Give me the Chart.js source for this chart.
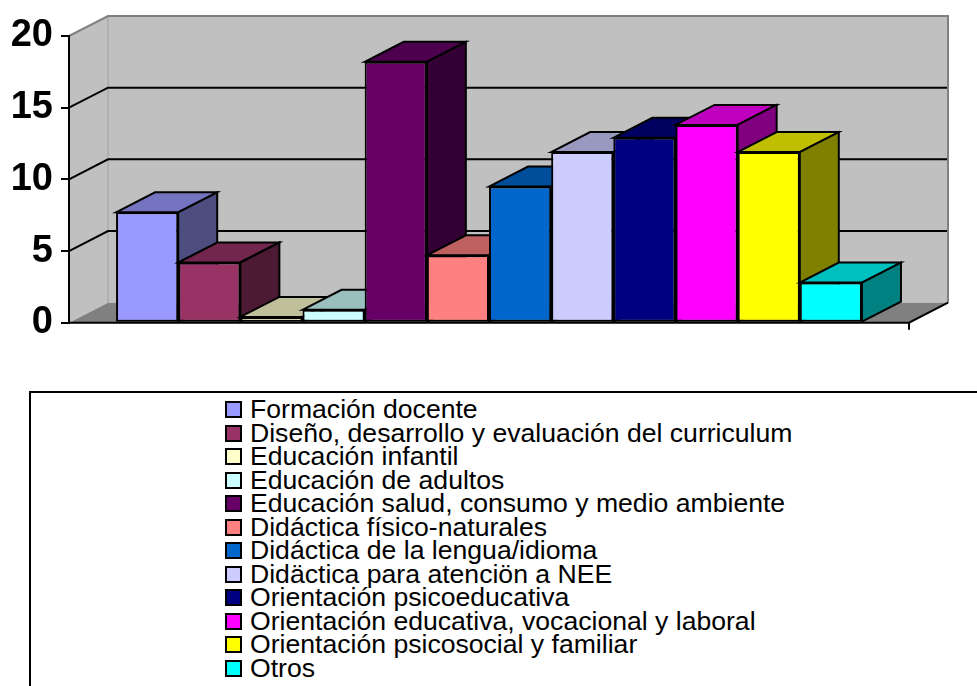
<!DOCTYPE html>
<html lang="es">
<head>
<meta charset="utf-8">
<title>Áreas de formación</title>
<script src="https://cdn.jsdelivr.net/npm/chart.js@4.4.1/dist/chart.umd.min.js"></script>
<style>
  body { margin: 0; background: #fff; width: 977px; height: 686px; overflow: hidden; position: relative; }
  #grafico { position: absolute; left: 0; top: 0; }
  #leyendaCaja {
    position: absolute; left: 29px; top: 391px; width: 1000px; height: 400px;
    border: 2px solid #000; box-sizing: border-box;
  }
  #leyenda {
    position: absolute; left: 225px; top: 397.7px;
    font-family: "Liberation Sans", Arial, sans-serif; font-size: 26.6px; color: #000;
  }
  .item { display: flex; align-items: center; height: 23.55px; white-space: nowrap; }
  .marca { width: 17px; height: 17px; border: 2px solid #000; box-sizing: border-box; margin-right: 8px; flex: none; }
</style>
</head>
<body>
<canvas id="grafico" width="977" height="390"></canvas>
<div id="leyendaCaja"></div>
<div id="leyenda"></div>

<script>
// datos
const categorias = [
  'Formación docente',
  'Diseño, desarrollo y evaluación del curriculum',
  'Educación infantil',
  'Educación de adultos',
  'Educación salud, consumo y medio ambiente',
  'Didáctica físico-naturales',
  'Didáctica de la lengua/idioma',
  'Didäctica para atenciön a NEE',
  'Orientación psicoeducativa',
  'Orientación educativa, vocacional y laboral',
  'Orientación psicosocial y familiar',
  'Otros'
];
const valores = [7.7, 4.2, 0.4, 0.9, 18.2, 4.7, 9.5, 11.9, 12.9, 13.8, 11.9, 2.8];
const colores = ['#9999FF', '#993366', '#FFFFCC', '#CCFFFF', '#660066', '#FF8080',
                 '#0066CC', '#CCCCFF', '#000080', '#FF00FF', '#FFFF00', '#00FFFF'];
const ticksY = [0, 5, 10, 15, 20];

// profundidad del efecto 3D
const DX = 39;
const DY = -20;

function oscurecer(hex, f) {
  const n = parseInt(hex.slice(1), 16);
  const r = Math.round(((n >> 16) & 255) * f);
  const g = Math.round(((n >> 8) & 255) * f);
  const b = Math.round((n & 255) * f);
  return `rgb(${r}, ${g}, ${b})`;
}

function poligono(ctx, pts, relleno, trazo, ancho) {
  ctx.beginPath();
  ctx.moveTo(pts[0][0], pts[0][1]);
  for (let i = 1; i < pts.length; i++) ctx.lineTo(pts[i][0], pts[i][1]);
  ctx.closePath();
  if (relleno) { ctx.fillStyle = relleno; ctx.fill(); }
  if (trazo) { ctx.strokeStyle = trazo; ctx.lineWidth = ancho; ctx.stroke(); }
}

function linea(ctx, pts, color, ancho) {
  ctx.beginPath();
  ctx.moveTo(pts[0][0], pts[0][1]);
  for (let i = 1; i < pts.length; i++) ctx.lineTo(pts[i][0], pts[i][1]);
  ctx.strokeStyle = color;
  ctx.lineWidth = ancho;
  ctx.stroke();
}

// paredes, suelo y caras de las barras
const plugin3D = {
  id: 'plugin3D',
  beforeDraw(chart) {
    const ctx = chart.ctx;
    const { left: L, right: R } = chart.chartArea;
    const y = chart.scales.y;
    const arriba = y.getPixelForValue(y.max);
    const abajo = y.getPixelForValue(y.min);
    ctx.save();
    ctx.lineJoin = 'miter';
    // pared izquierda y fondo
    poligono(ctx, [[L, arriba], [L + DX, arriba + DY], [L + DX, abajo + DY], [L, abajo]], '#C0C0C0');
    poligono(ctx, [[L + DX, arriba + DY], [R + DX, arriba + DY], [R + DX, abajo + DY], [L + DX, abajo + DY]], '#C0C0C0');
    linea(ctx, [[L + DX, arriba + DY], [L + DX, abajo + DY]], '#A0A0A0', 1);
    // suelo
    poligono(ctx, [[L, abajo], [L + DX, abajo + DY], [R + DX, abajo + DY], [R, abajo]], '#808080');
    // líneas de división
    y.ticks.forEach(t => {
      if (t.value === y.min || t.value === y.max) return;
      const p = y.getPixelForValue(t.value);
      linea(ctx, [[L, p], [L + DX, p + DY], [R + DX, p + DY]], '#000', 2);
    });
    // bordes grises
    linea(ctx, [[L, arriba], [L + DX, arriba + DY], [R + DX, arriba + DY], [R + DX, abajo + DY]], '#808080', 2);
    // borde delantero del suelo
    linea(ctx, [[L, abajo], [R, abajo], [R + DX, abajo + DY]], '#000', 2);
    linea(ctx, [[R, abajo], [R, abajo + 7]], '#000', 2);
    ctx.restore();
  },
  // chart.js pinta las series al revés; se cancela y se pinta de izquierda a derecha
  beforeDatasetDraw() {
    return false;
  },
  afterDatasetsDraw(chart) {
    const ctx = chart.ctx;
    chart.data.datasets.forEach((ds, i) => {
      const meta = chart.getDatasetMeta(i);
      meta.data.forEach(bar => {
        bar.draw(ctx);
        const { x, y, base, width } = bar.getProps(['x', 'y', 'base', 'width'], true);
        const izq = x - width / 2;
        const der = x + width / 2;
        ctx.save();
        ctx.lineJoin = 'miter';
        // cara superior
        poligono(ctx, [[izq, y], [izq + DX, y + DY], [der + DX, y + DY], [der, y]],
          oscurecer(ds.backgroundColor, 0.75), '#000', 2);
        // cara lateral
        poligono(ctx, [[der, y], [der + DX, y + DY], [der + DX, base + DY], [der, base]],
          oscurecer(ds.backgroundColor, 0.5), '#000', 2);
        ctx.restore();
      });
    });
  }
};

const datasets = categorias.map((nombre, i) => ({
  label: nombre,
  data: [valores[i]],
  backgroundColor: colores[i],
  borderColor: '#000',
  borderWidth: 2,
  borderSkipped: false
}));

new Chart(document.getElementById('grafico').getContext('2d'), {
  type: 'bar',
  data: { labels: [''], datasets },
  options: {
    responsive: false,
    animation: false,
    devicePixelRatio: 1,
    layout: { padding: { top: 36, right: 68, bottom: 67.3, left: 0 } },
    datasets: { bar: { barPercentage: 1, categoryPercentage: 0.888 } },
    plugins: { legend: { display: false }, tooltip: { enabled: false } },
    scales: {
      x: { display: false },
      y: {
        min: 0,
        max: 20,
        afterFit: scale => { scale.width = 69; },
        afterBuildTicks: scale => { scale.ticks = ticksY.map(v => ({ value: v })); },
        ticks: {
          stepSize: 5,
          padding: 8,
          color: '#000',
          font: { family: '"Liberation Sans", Arial, sans-serif', size: 38, weight: 'bold' }
        },
        grid: { drawOnChartArea: false, drawTicks: true, tickLength: 8, color: '#000', lineWidth: 2 },
        border: { display: true, color: '#000', width: 2 }
      }
    }
  },
  plugins: [plugin3D]
});

// leyenda en columna, debajo del gráfico
const leyenda = document.getElementById('leyenda');
categorias.forEach((nombre, i) => {
  const item = document.createElement('div');
  item.className = 'item';
  const marca = document.createElement('span');
  marca.className = 'marca';
  marca.style.background = colores[i];
  const texto = document.createElement('span');
  texto.textContent = nombre;
  item.appendChild(marca);
  item.appendChild(texto);
  leyenda.appendChild(item);
});
</script>
</body>
</html>
